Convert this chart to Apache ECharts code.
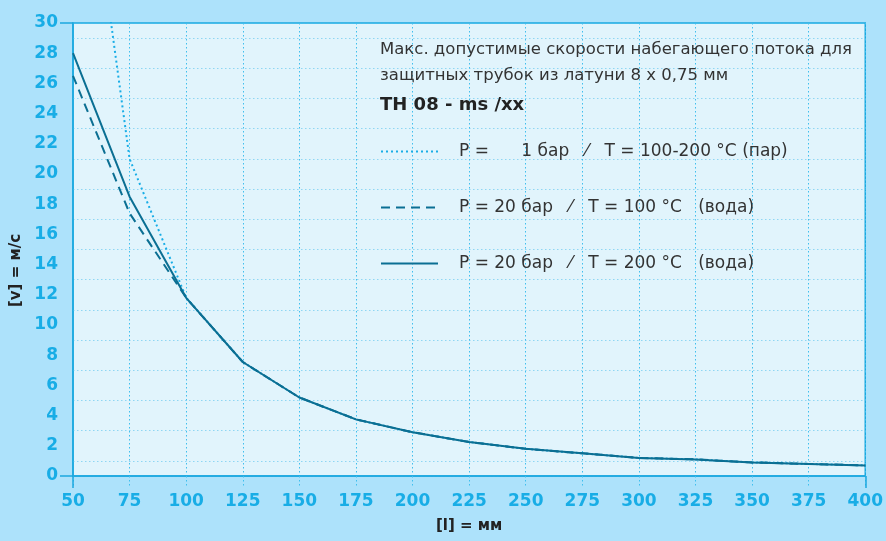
<!DOCTYPE html>
<html>
<head>
<meta charset="utf-8">
<script src="https://cdn.jsdelivr.net/npm/echarts@6/dist/echarts.min.js"></script>
<style>
  html, body { margin: 0; padding: 0; background: #ade2fb; }
  #chart { width: 886px; height: 541px; }
</style>
</head>
<body>
<div id="chart"></div>
<script>
// Protection tube length, mm
const lengths = [50, 75, 100, 125, 150, 175, 200, 225, 250, 275, 300, 325, 350, 375, 400];

// Max. permissible flow velocity, m/s
const steam1bar = [48.5, 21, 11.8, 7.55, 5.2, 3.75, 2.9, 2.25, 1.8, 1.5, 1.2, 1.1, 0.9, 0.8, 0.7];
const water20bar100C = [26.5, 17.4, 11.8, 7.55, 5.2, 3.75, 2.9, 2.25, 1.8, 1.5, 1.2, 1.1, 0.9, 0.8, 0.7];
const water20bar200C = [28, 18.5, 11.8, 7.55, 5.2, 3.75, 2.9, 2.25, 1.8, 1.5, 1.2, 1.1, 0.9, 0.8, 0.7];

const seriesNames = [
  'P =      1 бар   ⁄   T = 100-200 °C (пар)',
  'P = 20 бар   ⁄   T = 100 °C   (вода)',
  'P = 20 бар   ⁄   T = 200 °C   (вода)'
];

const titleLines = 'Макс. допустимые скорости набегающего потока для\nзащитных трубок из латуни 8 x 0,75 мм';
const subTitle = 'TH 08 - ms /xx';

const pairs = vals => lengths.map((l, i) => [l, vals[i]]);

const cyan = '#18ade6';
const teal = '#0b6f93';
const gridColor = '#3fbfee';
const axisColor = '#1ba8df';
const textFont = 'DejaVu Sans';

const chart = echarts.init(document.getElementById('chart'));
chart.setOption({
  backgroundColor: '#ade2fb',
  animation: false,
  title: {
    left: 375,
    top: 32,
    text: titleLines,
    subtext: subTitle,
    itemGap: 7,
    textStyle: { fontFamily: textFont, fontSize: 16.5, fontWeight: 'normal', color: '#333', lineHeight: 26 },
    subtextStyle: { fontFamily: textFont, fontSize: 18, fontWeight: 'bold', color: '#222' }
  },
  legend: {
    orient: 'vertical',
    left: 375,
    top: 138,
    itemWidth: 57,
    itemHeight: 14,
    itemGap: 39,
    data: seriesNames,
    itemStyle: { color: 'transparent', borderWidth: 0 },
    textStyle: { fontFamily: textFont, fontSize: 17, color: '#333', padding: [0, 0, 0, 16] }
  },
  grid: {
    left: 73, right: 20, top: 23, bottom: 65,
    show: true,
    backgroundColor: '#e1f4fc',
    borderColor: axisColor,
    borderWidth: 1.5
  },
  xAxis: [{
    type: 'value',
    min: 50, max: 400, interval: 25,
    name: '[l] = мм',
    nameLocation: 'middle',
    nameGap: 43,
    nameTextStyle: { fontFamily: 'DejaVu Sans', fontSize: 15, fontWeight: 'bold', color: '#222' },
    axisLine: { show: true, lineStyle: { color: axisColor, width: 1.5 } },
    axisTick: { show: true, length: 12, lineStyle: { color: gridColor, type: [1.5, 2.5], width: 1 } },
    axisLabel: { margin: 17, fontFamily: 'DejaVu Sans', fontSize: 17, fontWeight: 'bold', color: cyan },
    splitLine: { show: true, lineStyle: { color: gridColor, type: [1.5, 2.5], width: 1 } }
  }, {
    // solid extension ticks at both ends of the length axis
    type: 'value',
    position: 'bottom',
    min: 50, max: 400, interval: 25,
    axisLine: { show: false },
    axisLabel: { show: false },
    splitLine: { show: false },
    axisTick: { show: true, length: 12, customValues: [50, 400], lineStyle: { color: axisColor, width: 1.5 } }
  }],
  yAxis: {
    type: 'value',
    min: 0, max: 30, interval: 2,
    name: '[v] = м/с',
    nameLocation: 'middle',
    nameGap: 47,
    nameRotate: 90,
    nameTextStyle: { fontFamily: 'DejaVu Sans', fontSize: 15, fontWeight: 'bold', color: '#222', padding: [0, 42, 0, 0] },
    axisLine: { show: true, lineStyle: { color: axisColor, width: 1.5 } },
    axisTick: { show: true, length: 13, customValues: [0, 30], lineStyle: { color: axisColor, width: 1.5 } },
    axisLabel: { margin: 15, fontFamily: 'DejaVu Sans', fontSize: 17, fontWeight: 'bold', color: cyan },
    splitLine: { show: true, lineStyle: { color: gridColor, type: [1.5, 2.5], width: 1 } },
    minorTick: { show: false, splitNumber: 2 },
    minorSplitLine: { show: true, lineStyle: { color: '#8fd6f3', type: [1.5, 2.5], width: 1 } }
  },
  series: [{
    name: seriesNames[0],
    type: 'line',
    data: pairs(steam1bar),
    symbol: 'none',
    clip: true,
    lineStyle: { color: cyan, width: 2, type: [2, 3] },
    itemStyle: { color: cyan }
  }, {
    name: seriesNames[1],
    type: 'line',
    data: pairs(water20bar100C),
    symbol: 'none',
    lineStyle: { color: teal, width: 2, type: [9, 6] },
    itemStyle: { color: teal }
  }, {
    name: seriesNames[2],
    type: 'line',
    data: pairs(water20bar200C),
    symbol: 'none',
    lineStyle: { color: teal, width: 2 },
    itemStyle: { color: teal }
  }]
});
</script>
</body>
</html>
